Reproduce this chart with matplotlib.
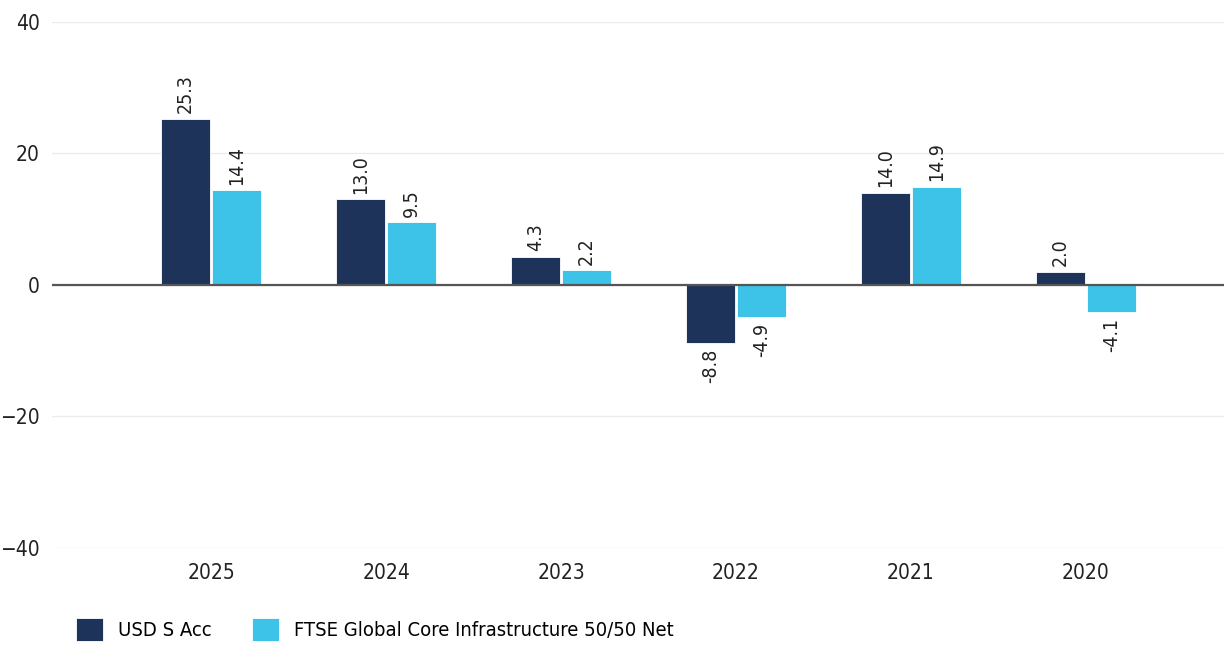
import matplotlib.pyplot as plt
import numpy as np

plt.rcParams['font.family'] = ['DejaVu Sans']
plt.rcParams['font.stretch'] = 'condensed'

years = ["2025", "2024", "2023", "2022", "2021", "2020"]
fund = [25.3, 13.0, 4.3, -8.8, 14.0, 2.0]
index = [14.4, 9.5, 2.2, -4.9, 14.9, -4.1]
fund_name = "USD S Acc"
index_name = "FTSE Global Core Infrastructure 50/50 Net"

navy = "#1e335a"
cyan = "#3cc3e7"

fig = plt.figure(figsize=(12.24, 6.46), dpi=100)
ax = fig.add_axes([0.0425, 0.152, 0.9575, 0.814])

x = np.arange(len(years))
w = 0.28
b1 = ax.bar(x - 0.146, fund, w, color=navy, edgecolor="white", linewidth=0.6, label=fund_name, zorder=3)
b2 = ax.bar(x + 0.146, index, w, color=cyan, edgecolor="white", linewidth=0.6, label=index_name, zorder=3)

ax.bar_label(b1, fmt="%.1f", rotation=90, padding=4, fontsize=14, color="#222222")
ax.bar_label(b2, fmt="%.1f", rotation=90, padding=4, fontsize=14, color="#222222")

ax.set_ylim(-40, 40)
ax.set_xlim(-0.91, 5.79)
ax.set_yticks([-40, -20, 0, 20, 40])
ax.set_yticklabels(["\u221240", "\u221220", "0", "20", "40"])
ax.set_xticks(x)
ax.set_xticklabels(years)
ax.tick_params(axis="both", length=0, labelsize=15, colors="#222222")
ax.tick_params(axis="x", pad=11)
ax.tick_params(axis="y", pad=9)

ax.grid(axis="y", color="#ebebeb", linewidth=1, zorder=0)
ax.axhline(0, color="#555555", linewidth=1.6, zorder=4)
for s in ax.spines.values():
    s.set_visible(False)

fig.legend(handles=[b1, b2], loc="lower left", bbox_to_anchor=(0.047, -0.02),
           ncol=2, frameon=False, fontsize=14.5, handlelength=1.35, handleheight=1.35,
           columnspacing=2.0, handletextpad=0.75)

fig.savefig("out.png", dpi=100)
